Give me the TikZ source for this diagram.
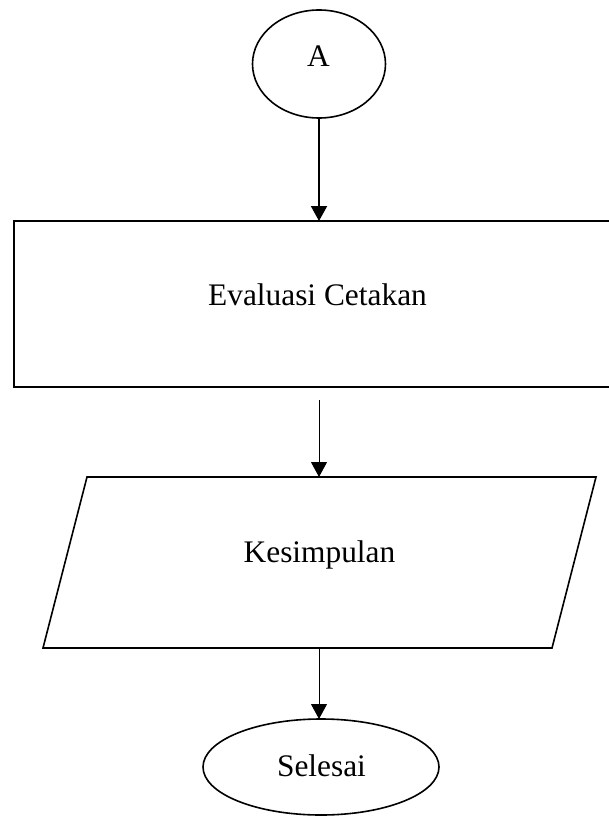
\documentclass[tikz,border=0pt]{standalone}
\usepackage{fontspec}
\setmainfont{Liberation Serif}
\usetikzlibrary{shapes.geometric,arrows.meta,calc}
\begin{document}
\begin{tikzpicture}[x=1bp,y=-1bp,
  shapeline/.style={draw=black, line width=1.6bp, inner sep=0pt, outer sep=0pt},
  ovalbox/.style={shapeline, ellipse},
  procbox/.style={draw=black, line width=2.4bp, rectangle, inner sep=0pt, outer sep=0pt},
  iopath/.style={draw=black, line width=1.6bp, line join=miter},
  lbl/.style={font=\fontsize{31.5}{36}\selectfont, inner sep=0pt, anchor=base},
  conthick/.style={line width=2bp, -{Triangle[length=15bp,width=16bp]}},
  conthin/.style={line width=1bp, -{Triangle[length=15bp,width=16bp]}}
]
\useasboundingbox (0,0) rectangle (609,816);
\fill[white] (0,0) rectangle (609,816);

\node[ovalbox, minimum width=133bp, minimum height=108bp] (a) at (319,64) {};
\node[lbl] (ta) at (318.5,67) {A};

\node[procbox, minimum width=600bp, minimum height=166bp] (eval) at (314,304) {};
\node[lbl] (teval) at (317.5,305) {Evaluasi Cetakan};

\coordinate (s2) at (319,400);
\coordinate (k1) at (87,477);
\coordinate (k2) at (596,477);
\coordinate (k3) at (552,648);
\coordinate (k4) at (43,648);
\coordinate (kt) at (319,477);
\coordinate (kb) at (319,648);
\draw[iopath] (k1) -- (k2) -- (k3) -- (k4) -- cycle;
\node[lbl] (tkes) at (319.5,562) {Kesimpulan};

\node[ovalbox, minimum width=236bp, minimum height=96bp] (sel) at (321,767) {};
\node[lbl] (tsel) at (321.5,776) {Selesai};

\draw[conthick] (a.south) -- (a.south |- eval.north);
\draw[conthin] (s2) -- (kt);
\draw[conthin] (kb) -- (kb |- sel.north);
\end{tikzpicture}
\end{document}
